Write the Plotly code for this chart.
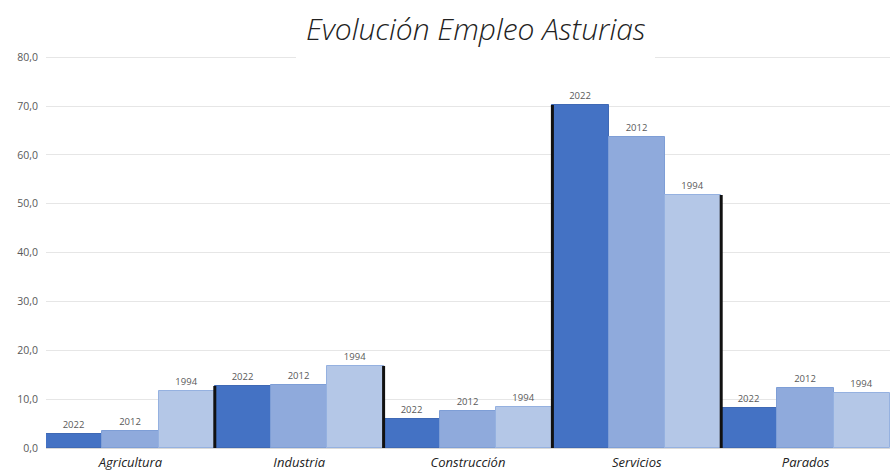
import plotly.graph_objects as go

sectores = ["Agricultura", "Industria", "Construcción", "Servicios", "Parados"]
anios = ["2022", "2012", "1994"]
empleo_2022 = [2.8, 12.7, 5.9, 70.2, 8.1]
empleo_2012 = [3.5, 12.9, 7.5, 63.7, 12.3]
empleo_1994 = [11.6, 16.8, 8.4, 51.8, 11.2]
colores = ["#4472C4", "#8FAADC", "#B4C7E7"]
bordes = ["#3F69B5", "#7E9ED6", "#95B1E0"]
ticks_y = [0, 10, 20, 30, 40, 50, 60, 70, 80]

series = [empleo_2022, empleo_2012, empleo_1994]
n_anios = len(anios)

fig = go.Figure()
for k, (anio, valores) in enumerate(zip(anios, series)):
    xs = [g * n_anios + k for g in range(len(sectores))]
    fig.add_trace(go.Bar(
        x=xs, y=valores, width=1,
        marker=dict(color=colores[k], line=dict(color=bordes[k], width=1)),
        text=[anio] * len(valores), textposition="outside",
        textfont=dict(family="Open Sans", size=9.5, color="#595959"),
        cliponaxis=False, showlegend=False, name=anio,
    ))

# black separators between sector groups, as tall as the taller neighbour
for g in range(len(sectores) - 1):
    izq = series[-1][g]
    der = series[0][g + 1]
    xb = g * n_anios + n_anios - 0.5
    fig.add_trace(go.Scatter(
        x=[xb, xb], y=[0, max(izq, der)], mode="lines",
        line=dict(color="#111111", width=3), showlegend=False, hoverinfo="skip",
    ))

centros = [g * n_anios + (n_anios - 1) / 2 for g in range(len(sectores))]

fig.update_layout(
    width=890, height=472,
    margin=dict(l=46, r=0, t=56, b=24),
    paper_bgcolor="white", plot_bgcolor="white",
    separators=",.",
    bargap=0,
    xaxis=dict(
        range=[-0.5, len(sectores) * n_anios - 0.5],
        tickvals=centros, ticktext=sectores,
        tickfont=dict(family="Open Sans", size=13, color="#222222", style="italic"),
        ticklabelstandoff=5,
        showgrid=False, zeroline=False, showline=False, ticks="",
    ),
    yaxis=dict(
        range=[0, 80.25], tickvals=ticks_y, tickformat=".1f",
        tickfont=dict(family="Open Sans", size=10.5, color="#595959"),
        ticklabelstandoff=7,
        gridcolor="#E6E6E6", gridwidth=1, zeroline=True, zerolinecolor="#D9D9D9",
        zerolinewidth=1, ticks="", showline=False,
    ),
    shapes=[dict(
        type="rect", xref="paper", yref="paper", layer="above",
        x0=(296 - 46) / 844, x1=(655 - 46) / 844,
        y0=1 - 6 / 392, y1=1 + 10 / 392,
        fillcolor="white", line=dict(width=0),
    )],
    annotations=[dict(
        text="Evolución Empleo Asturias", xref="paper", yref="paper",
        x=(476 - 46) / 844, y=1 + 28 / 392, xanchor="center", yanchor="middle",
        showarrow=False,
        font=dict(family="Open Sans", size=30, color="#222222", style="italic", weight=300),
    )],
)

fig.write_html("out.html")
